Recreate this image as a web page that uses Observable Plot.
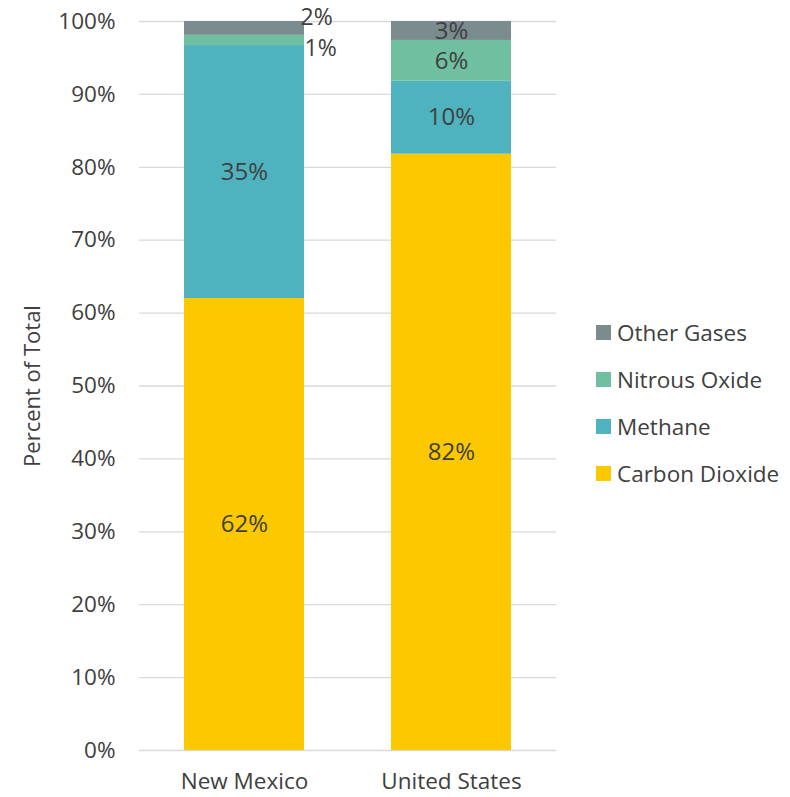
<!DOCTYPE html>
<html>
<head>
<meta charset="utf-8">
<script src="https://cdn.jsdelivr.net/npm/d3@7"></script>
<script src="https://cdn.jsdelivr.net/npm/@observablehq/plot@0.6"></script>
<style>
  html, body { margin: 0; padding: 0; background: #fff; }
  #wrap { position: relative; width: 790px; height: 797px; font-family: "Open Sans", sans-serif; }
  #legend { position: absolute; left: 596px; top: 309px; }
  .item { display: flex; align-items: center; height: 47px; font-size: 22.5px; color: #404040; }
  .sw { width: 15px; height: 15px; margin-right: 6px; }
</style>
</head>
<body>
<div id="wrap"></div>
<script>
const regions = ["New Mexico", "United States"];
const gases = ["Carbon Dioxide", "Methane", "Nitrous Oxide", "Other Gases"];
const newMexico = [62.0, 34.7, 1.4, 1.9];
const unitedStates = [81.8, 10.0, 5.6, 2.6];
const gasColors = ["#fcc900", "#4fb3bf", "#6fbfa0", "#7a8c8e"];
const yTicks = [0, 10, 20, 30, 40, 50, 60, 70, 80, 90, 100];

const series = [newMexico, unitedStates];
const rows = [];
regions.forEach((r, i) => {
  let acc = 0;
  gases.forEach((g, j) => {
    const v = series[i][j];
    rows.push({region: r, gas: g, value: v, y1: acc, y2: acc + v, label: Math.round(v) + "%"});
    acc += v;
  });
});
const mid = d => (d.y1 + d.y2) / 2;
const outside = d => d.region === "New Mexico" && (d.gas === "Other Gases" || d.gas === "Nitrous Oxide");

const chart = Plot.plot({
  width: 790,
  height: 797,
  marginLeft: 139,
  marginRight: 234,
  marginTop: 21,
  marginBottom: 47,
  style: {fontFamily: "Open Sans, sans-serif", fontSize: "22.5px", color: "#404040", background: "#fff"},
  x: {domain: regions, paddingInner: 0.4217, paddingOuter: 0.2157, label: null, tickSize: 0, tickPadding: 23, fontSize: 23},
  y: {domain: [0, 100], ticks: yTicks, tickFormat: d => d + "%", label: null, tickSize: 0, tickPadding: 24},
  color: {domain: gases, range: gasColors},
  marks: [
    Plot.gridY(yTicks, {stroke: "#d9d9d9", strokeOpacity: 1, strokeWidth: 1.3}),
    Plot.rectY(rows, {x: "region", y1: "y1", y2: "y2", fill: "gas"}),
    Plot.text(rows.filter(d => !outside(d)), {x: "region", y: mid, text: "label", fill: "#404040", fontSize: 24}),
    Plot.text(rows.filter(d => outside(d) && d.gas === "Other Gases"), {x: "region", y: mid, text: "label", fill: "#404040", fontSize: 23, textAnchor: "start", dx: 56, dy: -11}),
    Plot.text(rows.filter(d => outside(d) && d.gas === "Nitrous Oxide"), {x: "region", y: mid, text: "label", fill: "#404040", fontSize: 23, textAnchor: "start", dx: 60, dy: 8}),
    Plot.text(["Percent of Total"], {frameAnchor: "left", textAnchor: "middle", dx: -107, rotate: -90, fill: "#404040", fontSize: 22})
  ]
});
chart.style.overflow = "visible";
const wrap = document.getElementById("wrap");
wrap.appendChild(chart);

const legend = document.createElement("div");
legend.id = "legend";
[3, 2, 1, 0].forEach(j => {
  const it = document.createElement("div");
  it.className = "item";
  it.innerHTML = `<div class="sw" style="background:${gasColors[j]}"></div><span>${gases[j]}</span>`;
  legend.appendChild(it);
});
wrap.appendChild(legend);
</script>
</body>
</html>
